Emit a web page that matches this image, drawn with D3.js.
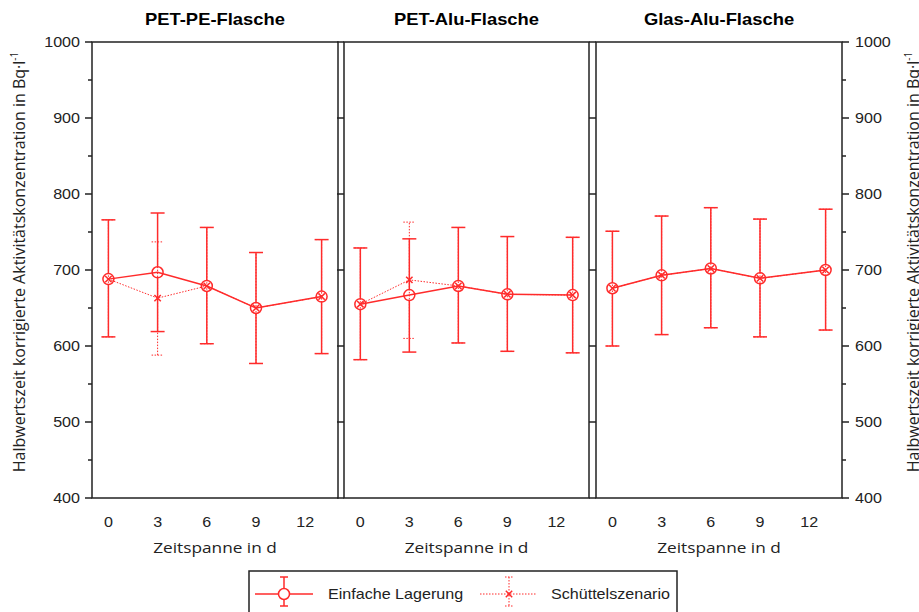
<!DOCTYPE html>
<html lang="de">
	<head>
		<meta charset="utf-8">
		<title>Aktivitaetskonzentration</title>
		<script type="text/javascript" src="https://cdn.jsdelivr.net/npm/d3@7"></script>
		<style>
			body { margin: 0; background: #fff; }
		</style>
	</head>
	<body>
		<script type="text/javascript">
			// data
			var days = [0, 3, 6, 9, 13];
			var tickDays = [0, 3, 6, 9, 12];
			var yTicks = [400, 500, 600, 700, 800, 900, 1000];
			var panelTitles = ["PET-PE-Flasche", "PET-Alu-Flasche", "Glas-Alu-Flasche"];
			var seriesNames = ["Einfache Lagerung", "Schüttelszenario"];

			var einfachMean = [[688, 697, 679, 650, 665], [655, 667, 679, 668, 667], [676, 693, 702, 689, 700]];
			var einfachLow  = [[612, 619, 603, 577, 590], [582, 592, 604, 593, 591], [600, 615, 624, 612, 621]];
			var einfachHigh = [[766, 775, 756, 723, 740], [729, 741, 756, 744, 743], [751, 771, 782, 767, 780]];

			var schuettelMean = [[688, 663, 679, 650, 665], [655, 687, 679, 668, 667], [676, 693, 702, 689, 700]];
			var schuettelLow  = [[612, 588, 603, 577, 590], [582, 610, 604, 593, 591], [600, 615, 624, 612, 621]];
			var schuettelHigh = [[766, 737, 756, 723, 740], [729, 763, 756, 744, 743], [751, 771, 782, 767, 780]];

			var w = 919;
			var h = 612;
			var red = "#ff2b2b";
			var panelX = [[92, 338], [344, 589], [596, 842]];
			var plotTop = 42, plotBottom = 498;
			var stretch = 1.15; // the original picture is a bit wider than tall

			var svg = d3.select("body")
						.append("svg")
						.attr("width", w)
						.attr("height", h);

			// text placed at (tx, ty) and widened like the original
			function wideText(parent, tx, ty) {
				return parent.append("text")
					.attr("transform", "translate(" + tx + "," + ty + ") scale(" + stretch + ",1)");
			}

			var y = d3.scaleLinear().domain([400, 1000]).range([plotBottom, plotTop]);

			panelX.forEach(function(px, p) {
				var x = d3.scaleLinear().domain([-1, 14]).range(px);
				var g = svg.append("g");

				// title
				wideText(g, (px[0] + px[1]) / 2, 25)
					.attr("text-anchor", "middle")
					.attr("font-family", "Liberation Sans, Arial, sans-serif")
					.attr("font-weight", "bold")
					.attr("font-size", "16px")
					.text(panelTitles[p]);

				// x tick labels
				tickDays.forEach(function(d) {
					wideText(g, x(d), 527)
						.attr("text-anchor", "middle")
						.attr("font-family", "Liberation Sans, Arial, sans-serif")
						.attr("font-size", "14px")
						.attr("fill", "#222")
						.text(d);
				});

				wideText(g, (px[0] + px[1]) / 2, 553)
					.attr("text-anchor", "middle")
					.attr("font-family", "Open Sans, sans-serif")
					.attr("font-size", "15px")
					.attr("fill", "#222")
					.text("Zeitspanne in d");

				// left ticks of each panel
				var minor = p === 0 ? d3.range(450, 1000, 100) : [];
				g.selectAll(".yt")
					.data(yTicks)
					.enter()
					.append("line")
					.attr("x1", px[0] - 7).attr("x2", px[0])
					.attr("y1", function(d) { return y(d); })
					.attr("y2", function(d) { return y(d); })
					.attr("stroke", "#222").attr("stroke-width", 1.5);
				g.selectAll(".ym")
					.data(minor)
					.enter()
					.append("line")
					.attr("x1", px[0] - 4).attr("x2", px[0])
					.attr("y1", function(d) { return y(d); })
					.attr("y2", function(d) { return y(d); })
					.attr("stroke", "#222").attr("stroke-width", 1.5);

				// error bars, schuettel (dotted) first
				var pts = days.map(function(d, i) {
					return { day: d, m: einfachMean[p][i], lo: einfachLow[p][i], hi: einfachHigh[p][i],
						sm: schuettelMean[p][i], slo: schuettelLow[p][i], shi: schuettelHigh[p][i] };
				});

				var sBars = g.selectAll(".sbar").data(pts).enter().append("g")
					.attr("stroke", red).attr("stroke-width", 1).attr("stroke-dasharray", "1.5,1.5").attr("fill", "none");
				sBars.append("line")
					.attr("x1", function(d) { return x(d.day); }).attr("x2", function(d) { return x(d.day); })
					.attr("y1", function(d) { return y(d.slo); }).attr("y2", function(d) { return y(d.shi); });
				sBars.append("line")
					.attr("x1", function(d) { return x(d.day) - 6; }).attr("x2", function(d) { return x(d.day) + 6; })
					.attr("y1", function(d) { return y(d.slo); }).attr("y2", function(d) { return y(d.slo); });
				sBars.append("line")
					.attr("x1", function(d) { return x(d.day) - 6; }).attr("x2", function(d) { return x(d.day) + 6; })
					.attr("y1", function(d) { return y(d.shi); }).attr("y2", function(d) { return y(d.shi); });

				g.append("path")
					.datum(pts)
					.attr("fill", "none")
					.attr("stroke", red)
					.attr("stroke-width", 1)
					.attr("stroke-dasharray", "1.5,1.5")
					.attr("d", d3.line().x(function(d) { return x(d.day); }).y(function(d) { return y(d.sm); }));

				var eBars = g.selectAll(".ebar").data(pts).enter().append("g")
					.attr("stroke", red).attr("stroke-width", 1.5).attr("fill", "none");
				eBars.append("line")
					.attr("x1", function(d) { return x(d.day); }).attr("x2", function(d) { return x(d.day); })
					.attr("y1", function(d) { return y(d.lo); }).attr("y2", function(d) { return y(d.m) + 5.5; });
				eBars.append("line")
					.attr("x1", function(d) { return x(d.day); }).attr("x2", function(d) { return x(d.day); })
					.attr("y1", function(d) { return y(d.m) - 5.5; }).attr("y2", function(d) { return y(d.hi); });
				eBars.append("line")
					.attr("x1", function(d) { return x(d.day) - 7; }).attr("x2", function(d) { return x(d.day) + 7; })
					.attr("y1", function(d) { return y(d.lo); }).attr("y2", function(d) { return y(d.lo); });
				eBars.append("line")
					.attr("x1", function(d) { return x(d.day) - 7; }).attr("x2", function(d) { return x(d.day) + 7; })
					.attr("y1", function(d) { return y(d.hi); }).attr("y2", function(d) { return y(d.hi); });

				// solid line between circles
				g.append("path")
					.datum(pts)
					.attr("fill", "none")
					.attr("stroke", red)
					.attr("stroke-width", 1.5)
					.attr("d", d3.line().x(function(d) { return x(d.day); }).y(function(d) { return y(d.m); }));

				// circle markers (open, the dotted bar shows through)
				g.selectAll(".circ")
					.data(pts)
					.enter()
					.append("circle")
					.attr("cx", function(d) { return x(d.day); })
					.attr("cy", function(d) { return y(d.m); })
					.attr("r", 5.5)
					.attr("fill", "none")
					.attr("stroke", red)
					.attr("stroke-width", 1.5);

				// schuettel x markers
				var xs = 3.2;
				g.selectAll(".xm")
					.data(pts)
					.enter()
					.append("path")
					.attr("d", function(d) {
						var cx = x(d.day), cy = y(d.sm);
						return "M" + (cx - xs) + "," + (cy - xs) + "L" + (cx + xs) + "," + (cy + xs) +
							"M" + (cx - xs) + "," + (cy + xs) + "L" + (cx + xs) + "," + (cy - xs);
					})
					.attr("stroke", red)
					.attr("stroke-width", 1.5)
					.attr("fill", "none");

				// frame
				g.append("rect")
					.attr("x", px[0]).attr("y", plotTop)
					.attr("width", px[1] - px[0]).attr("height", plotBottom - plotTop)
					.attr("fill", "none")
					.attr("stroke", "#222")
					.attr("stroke-width", 1.5);
			});

			// left y tick labels
			yTicks.forEach(function(d) {
				wideText(svg, 80, y(d) + 5)
					.attr("text-anchor", "end")
					.attr("font-family", "Liberation Sans, Arial, sans-serif")
					.attr("font-size", "14px")
					.attr("fill", "#222")
					.text(d);
			});

			// right axis
			var rx = panelX[2][1];
			svg.selectAll(".rt")
				.data(yTicks)
				.enter()
				.append("line")
				.attr("x1", rx).attr("x2", rx + 7)
				.attr("y1", function(d) { return y(d); })
				.attr("y2", function(d) { return y(d); })
				.attr("stroke", "#222").attr("stroke-width", 1.5);
			svg.selectAll(".rm")
				.data(d3.range(450, 1000, 100))
				.enter()
				.append("line")
				.attr("x1", rx).attr("x2", rx + 4)
				.attr("y1", function(d) { return y(d); })
				.attr("y2", function(d) { return y(d); })
				.attr("stroke", "#222").attr("stroke-width", 1.5);
			yTicks.forEach(function(d) {
				wideText(svg, 855, y(d) + 5)
					.attr("font-family", "Liberation Sans, Arial, sans-serif")
					.attr("font-size", "14px")
					.attr("fill", "#222")
					.text(d);
			});

			// y axis titles (the right one runs off the edge like the original)
			[25, 919].forEach(function(tx) {
				var t = svg.append("text")
					.attr("transform", "translate(" + tx + ",262) rotate(-90)")
					.attr("text-anchor", "middle")
					.attr("font-family", "Open Sans, sans-serif")
					.attr("font-size", "16px")
					.attr("fill", "#222");
				t.append("tspan").text("Halbwertszeit korrigierte Aktivitätskonzentration in Bq·l");
				t.append("tspan").attr("dy", -7).attr("font-size", "10px").text("-1");
			});

			// legend
			var lg = svg.append("g");
			lg.append("rect")
				.attr("x", 249).attr("y", 571)
				.attr("width", 428).attr("height", 50)
				.attr("fill", "#fff")
				.attr("stroke", "#222")
				.attr("stroke-width", 1.5);

			var ly = 594;
			lg.append("line").attr("x1", 255).attr("x2", 313).attr("y1", ly).attr("y2", ly)
				.attr("stroke", red).attr("stroke-width", 1.5);
			lg.append("line").attr("x1", 284).attr("x2", 284).attr("y1", 577).attr("y2", 606)
				.attr("stroke", red).attr("stroke-width", 1.5);
			lg.append("line").attr("x1", 280).attr("x2", 288).attr("y1", 577).attr("y2", 577)
				.attr("stroke", red).attr("stroke-width", 1.5);
			lg.append("line").attr("x1", 280).attr("x2", 288).attr("y1", 606).attr("y2", 606)
				.attr("stroke", red).attr("stroke-width", 1.5);
			lg.append("circle").attr("cx", 284).attr("cy", ly).attr("r", 5.5)
				.attr("fill", "#fff").attr("stroke", red).attr("stroke-width", 1.5);
			wideText(lg, 328, ly + 5)
				.attr("font-family", "Liberation Sans, Arial, sans-serif")
				.attr("font-size", "14px").attr("fill", "#222")
				.text(seriesNames[0]);

			lg.append("line").attr("x1", 480).attr("x2", 537).attr("y1", ly).attr("y2", ly)
				.attr("stroke", red).attr("stroke-width", 1).attr("stroke-dasharray", "1.5,1.5");
			lg.append("line").attr("x1", 509).attr("x2", 509).attr("y1", 577).attr("y2", 606)
				.attr("stroke", red).attr("stroke-width", 1).attr("stroke-dasharray", "1.5,1.5");
			lg.append("line").attr("x1", 505).attr("x2", 513).attr("y1", 577).attr("y2", 577)
				.attr("stroke", red).attr("stroke-width", 1).attr("stroke-dasharray", "1.5,1.5");
			lg.append("line").attr("x1", 505).attr("x2", 513).attr("y1", 606).attr("y2", 606)
				.attr("stroke", red).attr("stroke-width", 1).attr("stroke-dasharray", "1.5,1.5");
			lg.append("path")
				.attr("d", "M505.8,590.8L512.2,597.2M505.8,597.2L512.2,590.8")
				.attr("stroke", red).attr("stroke-width", 1.5).attr("fill", "none");
			wideText(lg, 551, ly + 5)
				.attr("font-family", "Liberation Sans, Arial, sans-serif")
				.attr("font-size", "14px").attr("fill", "#222")
				.text(seriesNames[1]);
		</script>
	</body>
</html>
